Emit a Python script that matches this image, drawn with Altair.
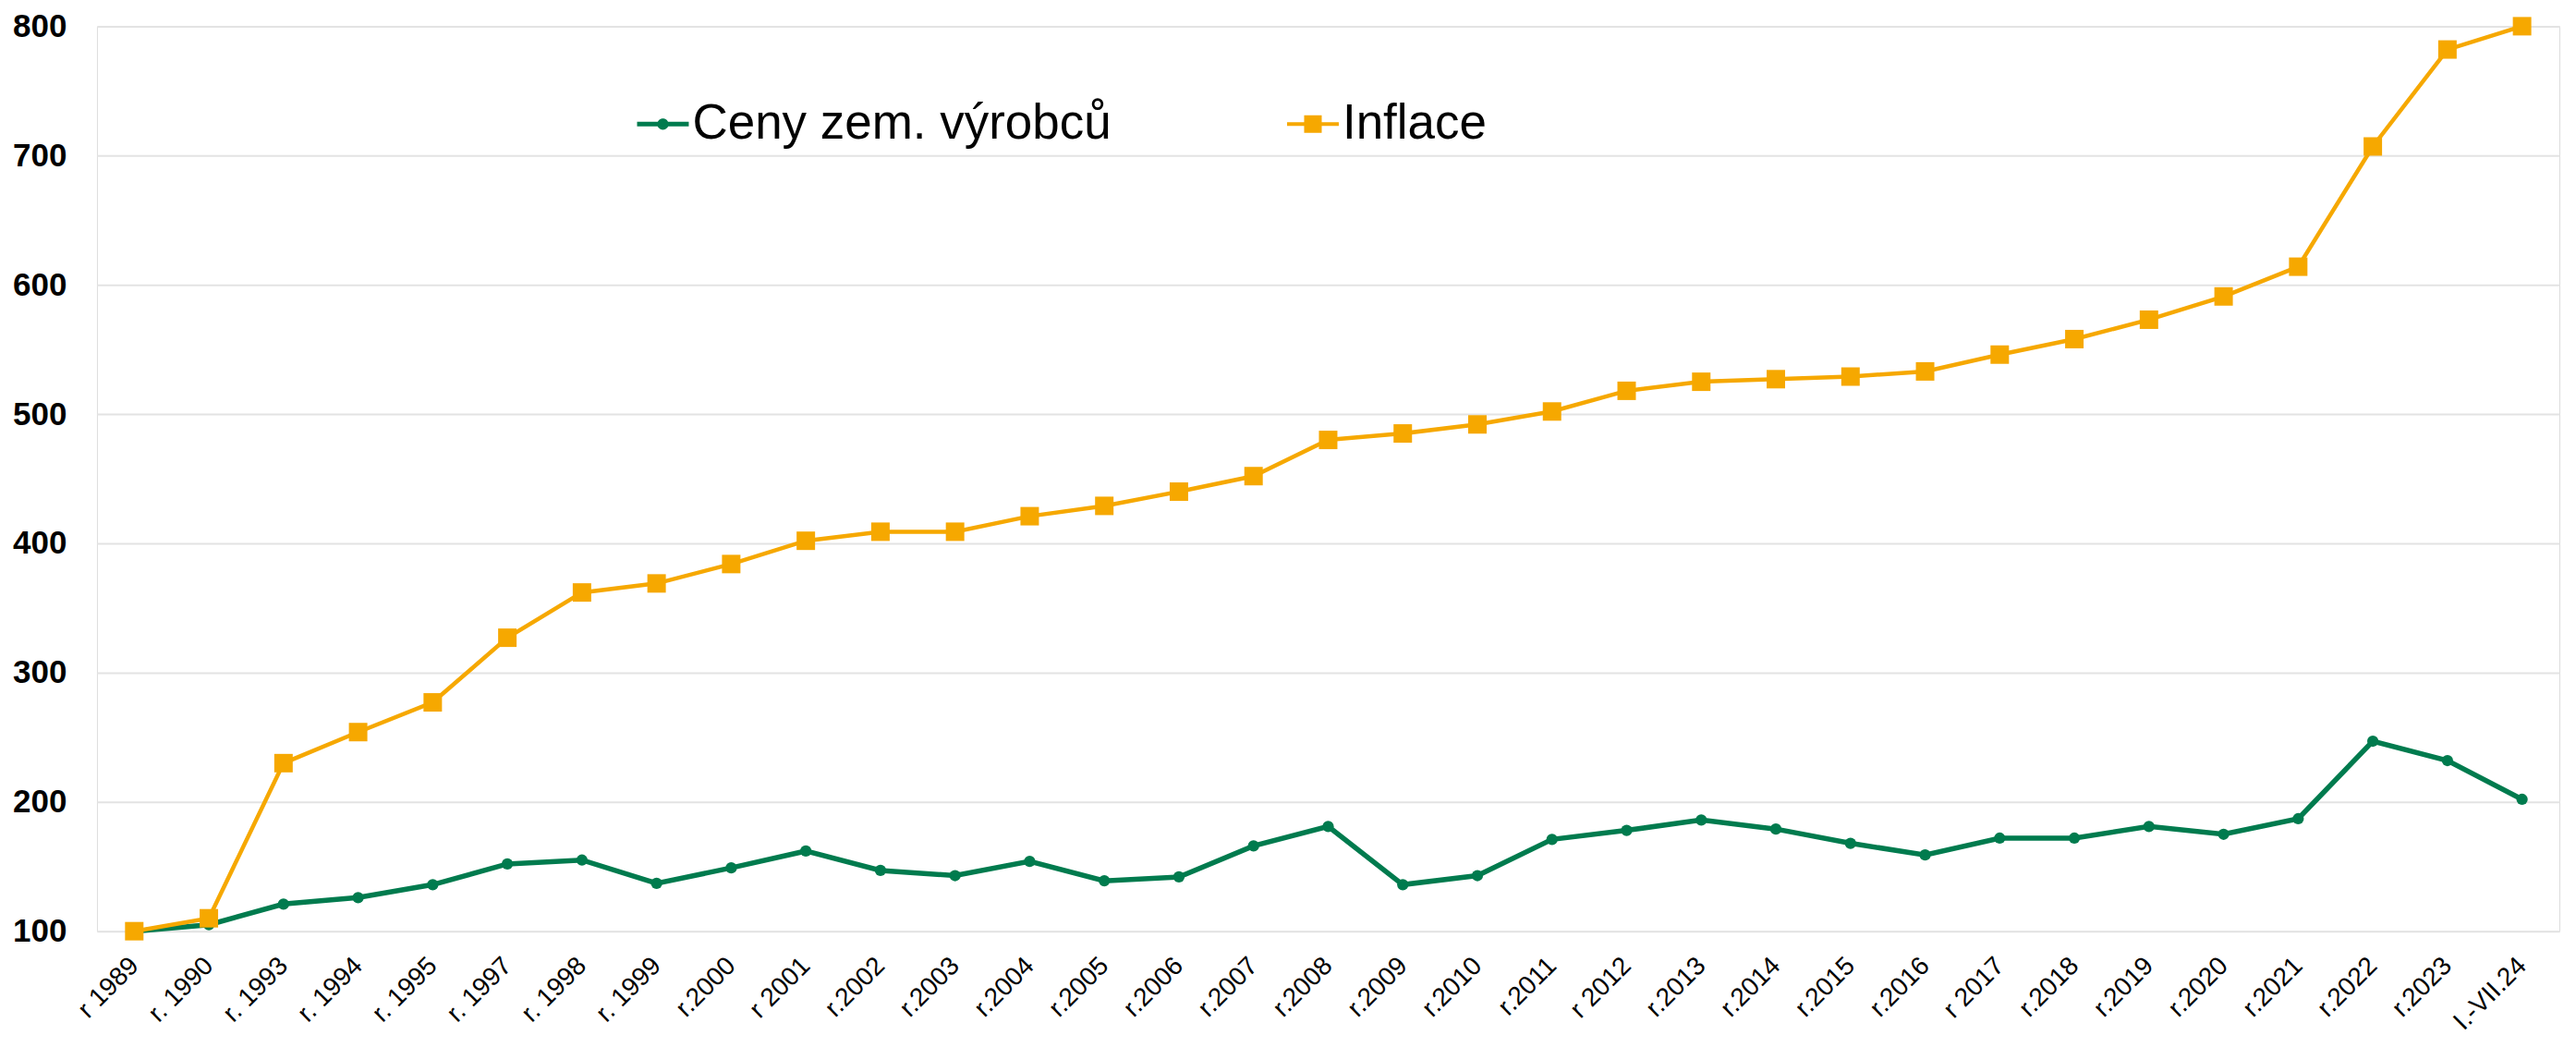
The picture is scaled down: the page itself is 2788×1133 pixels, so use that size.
import altair as alt
import pandas as pd

categories = ["r 1989", "r. 1990", "r. 1993", "r. 1994", "r. 1995", "r. 1997", "r. 1998",
              "r. 1999", "r.2000", "r 2001", "r.2002", "r.2003", "r.2004", "r.2005",
              "r.2006", "r.2007", "r.2008", "r.2009", "r.2010", "r.2011", "r 2012",
              "r.2013", "r.2014", "r.2015", "r.2016", "r 2017", "r.2018", "r.2019",
              "r.2020", "r.2021", "r.2022", "r.2023", "I.-VII.24"]

ceny = [100, 105, 121, 126, 136, 152, 155, 137, 149, 162, 147, 143, 154, 139, 142, 166,
        181, 136, 143, 171, 178, 186, 179, 168, 159, 172, 172, 181, 175, 187, 247, 232, 202]

inflace = [100, 110, 230, 254, 277, 327, 362, 369, 384, 402, 409, 409, 421, 429, 440, 452,
           480, 485, 492, 502, 518, 525, 527, 529, 533, 546, 558, 573, 591, 614, 707, 782, 800]

series_names = ["Ceny zem. výrobců", "Inflace"]
colors = ["#007B4E", "#F6A800"]

rows = []
for c, v in zip(categories, ceny):
    rows.append({"cat": c, "value": v, "series": series_names[0]})
for c, v in zip(categories, inflace):
    rows.append({"cat": c, "value": v, "series": series_names[1]})
df = pd.DataFrame(rows)

x_enc = alt.X("cat:N", sort=categories,
              scale=alt.Scale(type="point", padding=0.5),
              axis=alt.Axis(title=None, labelAngle=-45, labelAlign="right",
                            labelBaseline="middle", labelFontSize=28,
                            labelFont="Liberation Sans", labelColor="#000000",
                            labelPadding=33, ticks=False, domain=False, grid=False,
                            labelOverlap=False))
y_enc = alt.Y("value:Q", scale=alt.Scale(domain=[100, 800], nice=False, zero=False),
              axis=alt.Axis(title=None, values=[100, 200, 300, 400, 500, 600, 700, 800],
                            labelFontSize=35, labelFont="Liberation Sans",
                            labelFontWeight="bold", labelColor="#000000",
                            labelPadding=33, ticks=False, domain=False, grid=True,
                            gridColor="#E3E3E3", gridWidth=2))

base = alt.Chart(df).encode(x=x_enc, y=y_enc)

green_line = base.transform_filter(alt.datum.series == series_names[0]).mark_line(
    color=colors[0], strokeWidth=5.5)
green_pts = base.transform_filter(alt.datum.series == series_names[0]).mark_point(
    shape="circle", filled=True, color=colors[0], size=150, opacity=1)
orange_line = base.transform_filter(alt.datum.series == series_names[1]).mark_line(
    color=colors[1], strokeWidth=4.5)
orange_pts = base.transform_filter(alt.datum.series == series_names[1]).mark_point(
    shape="square", filled=True, color=colors[1], size=400, opacity=1)

# legend symbols: short line with marker
path_circle = ("M-1,-0.09H1V0.09H-1Z "
               "M-0.22,0A0.22,0.22 0 1,1 0.22,0A0.22,0.22 0 1,1 -0.22,0Z")
path_square = "M-1,-0.07H1V0.07H-1Z M-0.34,-0.34H0.34V0.34H-0.34Z"

leg = alt.Legend(title=None, orient="none", direction="horizontal",
                 legendX=585, legendY=78, labelFontSize=53,
                 labelFont="Liberation Sans", labelColor="#000000",
                 symbolSize=3136, symbolStrokeWidth=0, labelOffset=4,
                 columnPadding=190, labelLimit=1000)

legend_layer = alt.Chart(df).transform_filter("false").mark_point(
    filled=True, opacity=1).encode(
    color=alt.Color("series:N", scale=alt.Scale(domain=series_names, range=colors), legend=leg),
    shape=alt.Shape("series:N", scale=alt.Scale(domain=series_names,
                                                range=[path_circle, path_square]), legend=leg),
)

chart = alt.layer(green_line, orange_line, green_pts, orange_pts, legend_layer).properties(
    width=2667, height=980,
    padding={"left": 97, "top": 20, "right": 10, "bottom": 117},
    autosize=alt.AutoSizeParams(type="none"),
).configure_view(stroke=None).configure(background="#FFFFFF")

chart.save("out.html", embed_options={"renderer": "svg", "actions": False})
